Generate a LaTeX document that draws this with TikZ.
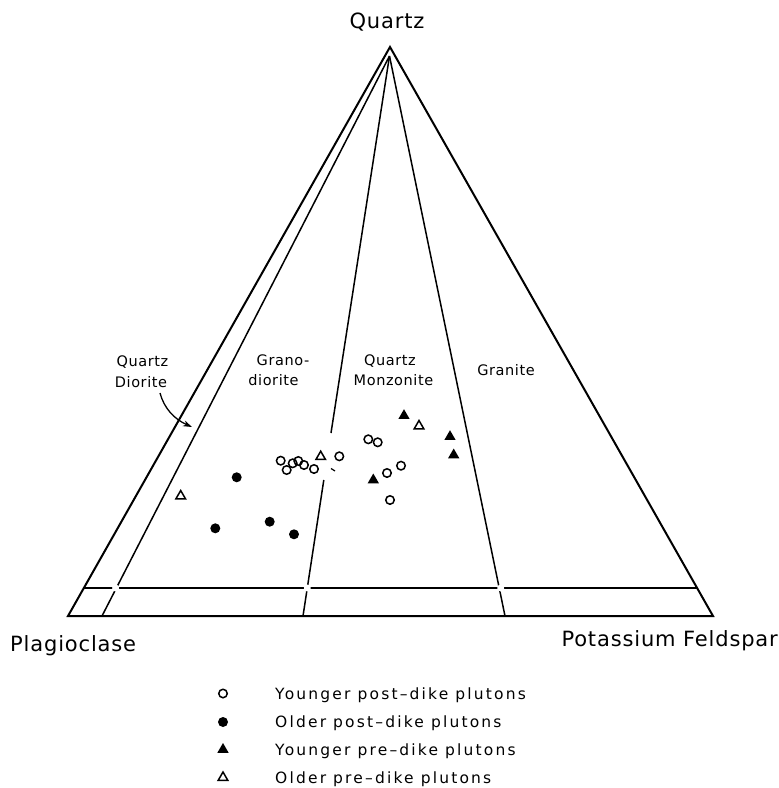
\documentclass[tikz,border=0pt]{standalone}
\usepackage{fontspec}
\setmainfont{DejaVu Sans}
\newfontfamily\lf[LetterSpace=4]{DejaVu Sans}
\newfontfamily\lfw[LetterSpace=14]{DejaVu Sans}
\usetikzlibrary{shapes.geometric,arrows.meta}
\tikzset{
  outer/.style={line width=2pt, line join=miter},
  inner/.style={line width=1.5pt},
  gapdot/.style={circle, fill=white, inner sep=0pt, minimum size=7pt},
  ocirc/.style={circle, draw, line width=1.5pt, inner sep=0pt, minimum size=8.5pt},
  fcirc/.style={circle, fill, inner sep=0pt, minimum size=10pt},
  ftri/.style={regular polygon, regular polygon sides=3, fill, inner sep=0pt, minimum size=13pt},
  otri/.style={regular polygon, regular polygon sides=3, draw, line width=1.5pt, inner sep=0pt, minimum size=11pt},
  big/.style={font=\lf\fontsize{21}{24}\selectfont, inner sep=0pt},
  mid/.style={font=\lf\fontsize{14.5}{17}\selectfont, inner sep=0pt},
  leg/.style={font=\lfw\fontsize{15.5}{18}\selectfont, inner sep=0pt, anchor=base west},
}
\begin{document}
\begin{tikzpicture}[x=1pt,y=-1pt]
\useasboundingbox (0,0) rectangle (779,788);
% corners
\coordinate (A) at (390,47);
\coordinate (L) at (68,616);
\coordinate (R) at (713,616);
\coordinate (I) at (389.5,56);
\coordinate (HL) at (84,588);
\coordinate (HR) at (697,588);
\coordinate (B1) at (102,616);
\coordinate (B2) at (303,616);
\coordinate (B3) at (505,616);
\coordinate (G1) at (331,433);
\coordinate (G2) at (323.8,480);
% outer triangle
\draw[outer] (L) -- (A) -- (R) -- cycle;
% inner lines
\draw[inner] (I) -- (B1);
\draw[inner] (I) -- (G1);
\draw[inner] (G2) -- (B2);
\draw[inner] (I) -- (B3);
\draw[inner] (HL) -- (HR);
% gaps at crossings
\node[gapdot] at (115.6,588) {};
\node[gapdot] at (307.3,588) {};
\node[gapdot] at (500.7,588) {};
% tiny mark
\coordinate (t1) at (331,468.5);
\coordinate (t2) at (335,471);
\draw[line width=1.2pt] (t1) -- (t2);
% arrow
\coordinate (a1) at (160,393);
\coordinate (a2) at (192,427);
\draw[line width=1.3pt, -{Stealth[length=9pt,width=6pt]}] (a1) .. controls (164,408) and (174,419) .. (a2);
% labels
\node[big, anchor=base] (qtz) at (387,28) {Quartz};
\node[big, anchor=base west] (plag) at (10,651) {Plagioclase};
\node[big, anchor=base east] (kfs) at (778,646) {Potassium Feldspar};
\node[mid, anchor=base] (qd1) at (142.5,366) {Quartz};
\node[mid, anchor=base] (qd2) at (141,387) {Diorite};
\node[mid, anchor=base] (gd1) at (283,365) {Grano-};
\node[mid, anchor=base] (gd2) at (273.5,385) {diorite};
\node[mid, anchor=base] (qm1) at (390,365) {Quartz};
\node[mid, anchor=base] (qm2) at (393.5,385) {Monzonite};
\node[mid, anchor=base] (gr) at (506,375) {Granite};
% data: younger post-dike (open circles)
\foreach \p [count=\i] in {(280.7,460.7),(286.7,470),(292.7,463.3),(298.3,461),(304,465),(314,469),(339.3,456.3),(368.3,439.3),(377.7,442.3),(401,465.7),(387,473),(390,500)}
  \node[ocirc] (oc\i) at \p {};
% older post-dike (filled circles)
\foreach \p [count=\i] in {(236.7,477.3),(215.3,528.3),(269.7,521.7),(294,534.3)}
  \node[fcirc] (fc\i) at \p {};
% younger pre-dike (filled triangles)
\foreach \p [count=\i] in {(404,415.7),(450,436.7),(453.7,455),(373.3,480)}
  \node[ftri] (ft\i) at \p {};
% older pre-dike (open triangles)
\foreach \p [count=\i] in {(320.7,456.7),(180.7,496),(419,426)}
  \node[otri] (ot\i) at \p {};
% legend
\node[ocirc] (l1) at (223,693.5) {};
\node[fcirc] (l2) at (223,722) {};
\node[ftri] (l3) at (223,749.5) {};
\node[otri] (l4) at (223,777.5) {};
\node[leg] (t1l) at (275,699) {Younger post–dike plutons};
\node[leg] (t2l) at (275,727.5) {Older post–dike plutons};
\node[leg] (t3l) at (275,755) {Younger pre–dike plutons};
\node[leg] (t4l) at (275,783) {Older pre–dike plutons};
\end{tikzpicture}
\end{document}
